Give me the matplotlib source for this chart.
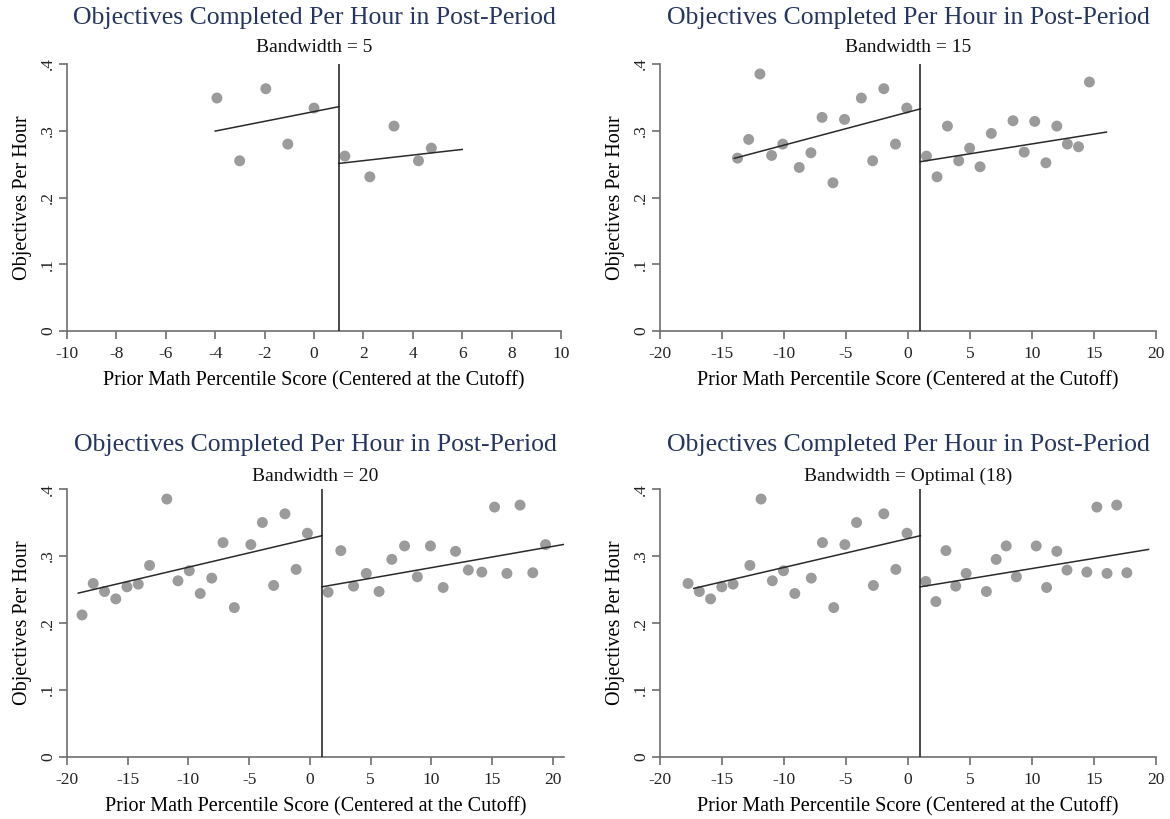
import numpy as np
import matplotlib
matplotlib.use('Agg')
from matplotlib import pyplot as plt

plt.rcParams['font.family'] = ['Liberation Serif', 'DejaVu Serif']

CUTOFF = 1

TITLE = 'Objectives Completed Per Hour in Post-Period'
SUBTITLES = ['Bandwidth = 5', 'Bandwidth = 15', 'Bandwidth = 20', 'Bandwidth = Optimal (18)']
XLABEL = 'Prior Math Percentile Score (Centered at the Cutoff)'
YLABEL = 'Objectives Per Hour'
YTICKS = [0, .1, .2, .3, .4]
YTICK_LABELS = ['0', '.1', '.2', '.3', '.4']

# bin means
bw5_x = [-3.93, -3.01, -1.95, -1.06, 0.0, 1.25, 2.26, 3.24, 4.23, 4.75]
bw5_y = [.349, .255, .363, .280, .334, .262, .231, .307, .255, .274]

bw15_x = [-13.75, -12.85, -11.94, -11.0, -10.1, -8.77, -7.83, -6.93, -6.05, -5.12,
          -3.76, -2.85, -1.95, -1.01, -0.1,
          1.49, 2.34, 3.18, 4.09, 4.97, 5.81, 6.72, 8.47, 9.37, 10.22,
          11.12, 12.0, 12.85, 13.75, 14.63]
bw15_y = [.259, .287, .385, .263, .280, .245, .267, .320, .222, .317,
          .349, .255, .363, .280, .334,
          .262, .231, .307, .255, .274, .246, .296, .315, .268, .314,
          .252, .307, .280, .276, .373]

bw20_x = [-18.76, -17.84, -16.91, -15.98, -15.06, -14.13, -13.2, -11.78, -10.86, -9.93,
          -9.03, -8.08, -7.15, -6.22, -4.86, -3.91, -2.98, -2.05, -1.13, -0.2,
          1.5, 2.55, 3.6, 4.65, 5.7, 6.75, 7.8, 8.85, 9.93, 10.98,
          12.0, 13.05, 14.16, 15.21, 16.23, 17.31, 18.36, 19.41]
bw20_y = [.212, .259, .247, .236, .254, .258, .286, .385, .263, .278,
          .244, .267, .320, .223, .317, .350, .256, .363, .280, .334,
          .246, .308, .255, .274, .247, .295, .315, .269, .315, .253,
          .307, .279, .276, .373, .274, .376, .275, .317]

opt_x = [-17.74, -16.83, -15.92, -15.02, -14.11, -12.75, -11.85, -10.94, -10.04, -9.13,
         -7.8, -6.9, -5.99, -5.09, -4.15, -2.79, -1.95, -0.98, -0.08,
         1.43, 2.25, 3.06, 3.85, 4.69, 6.32, 7.11, 7.92, 8.74, 10.34,
         11.18, 12.0, 12.82, 14.42, 15.23, 16.05, 16.83, 17.65]
opt_y = [.259, .247, .236, .254, .258, .286, .385, .263, .278, .244,
         .267, .320, .223, .317, .350, .256, .363, .280, .334,
         .262, .232, .308, .255, .274, .247, .295, .315, .269, .315,
         .253, .307, .279, .276, .373, .274, .376, .275]

# linear fits on each side of the cutoff (endpoints as drawn)
bw5_fit = [([-4, 1], [.2995, .336]), ([1, 6], [.251, .272])]
bw15_fit = [([-14, 1], [.2587, .3328]), ([1, 16], [.2537, .298])]
bw20_fit = [([-19.07, 1], [.2446, .3303]), ([1, 20.93], [.254, .3173])]
opt_fit = [([-17.28, 1], [.2516, .3303]), ([1, 19.4], [.254, .3098])]

XLIMS = [(-10, 10), (-20, 20), (-20, 20.93), (-20, 20)]
XTICKS = [np.arange(-10, 11, 2), np.arange(-20, 21, 5), np.arange(-20, 21, 5), np.arange(-20, 21, 5)]

PANELS = [(bw5_x, bw5_y, bw5_fit), (bw15_x, bw15_y, bw15_fit),
          (bw20_x, bw20_y, bw20_fit), (opt_x, opt_y, opt_fit)]

# axes boxes in figure fraction [left, bottom, width, height]
BOXES = [
    [67/1170, 1 - 331/819, 494/1170, 267/819],
    [660/1170, 1 - 331/819, 496/1170, 267/819],
    [67/1170, 1 - 757/819, 497/1170, 268/819],
    [660/1170, 1 - 757/819, 496/1170, 268/819],
]

AXIS_GREY = '#6e6e6e'
DOT_GREY = '#9b9b9b'
NAVY = '#26355f'

fig = plt.figure(figsize=(11.7, 8.19), dpi=100)

for i, ((x, y, fit), box) in enumerate(zip(PANELS, BOXES)):
    ax = fig.add_axes(box)
    ax.scatter(x, y, s=62, color=DOT_GREY, edgecolors='none', zorder=2)
    for fx, fy in fit:
        ax.plot(fx, fy, color='#2a2a2a', lw=1.1, zorder=3)
    ax.axvline(CUTOFF, color='#1a1a1a', lw=1.1, zorder=3)

    ax.set_xlim(*XLIMS[i])
    ax.set_ylim(0, .4)
    ax.set_xticks(XTICKS[i])
    ax.set_xticklabels([str(t) for t in XTICKS[i]])
    ax.set_yticks(YTICKS)
    ax.set_yticklabels(YTICK_LABELS, rotation=90, va='center')

    for side in ('top', 'right'):
        ax.spines[side].set_visible(False)
    for side in ('left', 'bottom'):
        ax.spines[side].set_color(AXIS_GREY)
        ax.spines[side].set_linewidth(1.2)
    ax.tick_params(length=6, width=1.2, color=AXIS_GREY, labelsize=12.5,
                   labelcolor='#222222', pad=5)
    ax.tick_params(axis='y', pad=2)

    ax.set_xlabel(XLABEL, fontsize=14.5, labelpad=6)
    ax.set_ylabel(YLABEL, fontsize=14.5, labelpad=6)

    cx = box[0] + box[2] / 2
    fig.text(cx, 1 - (18 if i < 2 else 445) / 819, TITLE, ha='center', va='center',
             fontsize=18.5, color=NAVY)
    fig.text(cx, 1 - (47 if i < 2 else 476) / 819, SUBTITLES[i], ha='center', va='center',
             fontsize=14, color='#111111')

fig.savefig('out.png', dpi=100, facecolor='white')
